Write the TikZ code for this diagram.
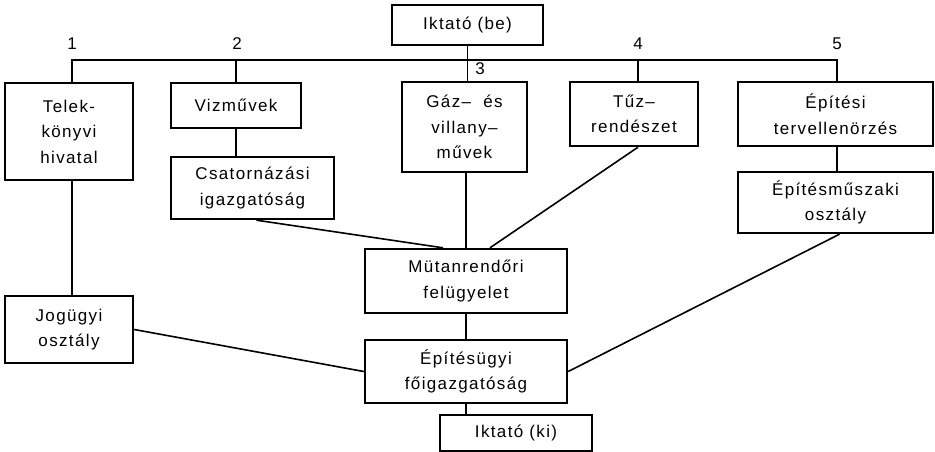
\documentclass[tikz,border=0pt]{standalone}
\usepackage{fontspec}
\setmainfont[LetterSpace=8]{Liberation Sans}
\begin{document}
\begin{tikzpicture}[x=1pt,y=-1pt,
  box/.style={draw,line width=2.4pt,inner sep=0pt,align=center,
    font=\fontsize{17}{25.5}\selectfont},
  conn/.style={line width=1.6pt},
  num/.style={font=\fontsize{17}{20}\selectfont,inner sep=0pt}]
\useasboundingbox (0,0) rectangle (935,452);

% offices
\node[box,minimum width=151,minimum height=40] (ikbe) at (467.5,25) {Iktató (be)};
\node[box,minimum width=128,minimum height=97] (telek) at (69,131.5) {Telek-\\könyvi\\hivatal};
\node[box,minimum width=130,minimum height=45] (vizm) at (236,105.5) {Vizművek};
\node[box,minimum width=163,minimum height=62] (csat) at (252.5,188) {Csatornázási\\igazgatóság};
\node[box,minimum width=125,minimum height=90] (gaz) at (464.5,127) {Gáz– \ és\\villany–\\művek};
\node[box,minimum width=128,minimum height=64] (tuz) at (634,114) {Tűz–\\rendészet};
\node[box,minimum width=195,minimum height=64] (terv) at (835.5,114) {Építési\\tervellenörzés};
\node[box,minimum width=195,minimum height=61] (epm) at (835.5,202.5) {Építésműszaki\\osztály};
\node[box,minimum width=202,minimum height=64] (mut) at (466,281) {Mütanrendőri\\felügyelet};
\node[box,minimum width=128,minimum height=67] (jog) at (69,329.5) {Jogügyi\\osztály};
\node[box,minimum width=202,minimum height=63] (epu) at (466,371.5) {Építésügyi\\főigazgatóság};
\node[box,minimum width=152,minimum height=36] (ikki) at (516,433) {Iktató (ki)};

% distribution line
\coordinate (busL) at (72,60);
\coordinate (busR) at (837,60);
\draw[conn] (telek.north -| busL) -- (busL) -- (busR) -- (terv.north -| busR);
\draw[conn] (vizm.north) -- (vizm.north |- busL);
\draw[conn] ([xshift=4pt]tuz.north) -- ([xshift=4pt]tuz.north |- busL);
\draw[conn] (ikbe.south) -- (ikbe.south |- gaz.north);

% branch numbers
\node[num] (n1) at (72,44) {1};
\node[num] (n2) at (237,44) {2};
\node[num] (n3) at (480,69) {3};
\node[num] (n4) at (638,44) {4};
\node[num] (n5) at (837,44) {5};

% connections
\draw[conn] (telek.south -| busL) -- (jog.north -| busL);
\draw[conn] (vizm.south) -- (vizm.south |- csat.north);
\draw[conn] ([xshift=4pt]csat.south) -- ([xshift=-23pt]mut.north);
\draw[conn] (mut.north) -- (mut.north |- gaz.south);
\draw[conn] ([xshift=4pt]tuz.south) -- ([xshift=24pt]mut.north);
\draw[conn] (terv.south -| busR) -- (epm.north -| busR);
\draw[conn] ([xshift=4pt]epm.south) -- (epu.east);
\draw[conn] (jog.east) -- (epu.west);
\draw[conn] (mut.south) -- (epu.north);
\draw[conn] (epu.south) -- (epu.south |- ikki.north);
\end{tikzpicture}
\end{document}
